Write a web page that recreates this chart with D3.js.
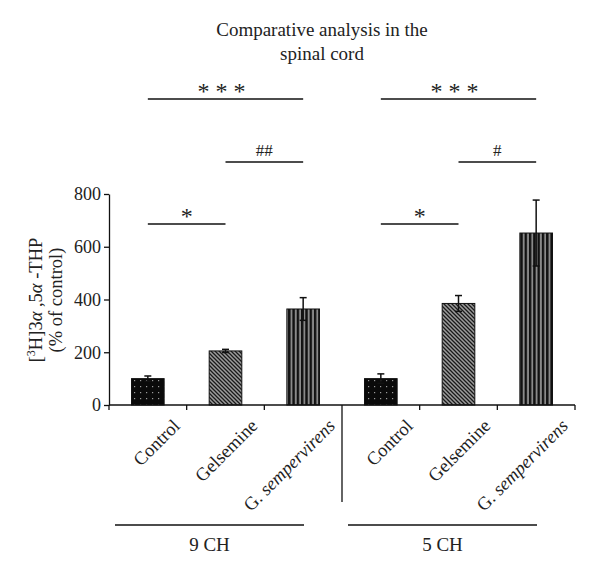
<!DOCTYPE html>
<html><head><meta charset="utf-8">
<script src="https://cdn.jsdelivr.net/npm/d3@7"></script>
<style>body{margin:0;background:#fff}svg{display:block}text{font-family:"Liberation Serif",serif;fill:#222}</style>
</head><body><div id="c"></div>
<script>
const groups = ["9 CH", "5 CH"];
const treatments = ["Control", "Gelsemine", "G. sempervirens"];
const values9 = [100, 205, 364];
const errors9 = [10, 6, 43];
const values5 = [100, 385, 652];
const errors5 = [18, 30, 125];
const yTicks = [0, 200, 400, 600, 800];
// significance brackets: [group, fromIndex, toIndex, label, level]
const brackets = [
  ["9 CH", 0, 2, "* * *", 3],
  ["9 CH", 1, 2, "##", 2],
  ["9 CH", 0, 1, "*", 1],
  ["5 CH", 0, 2, "* * *", 3],
  ["5 CH", 1, 2, "#", 2],
  ["5 CH", 0, 1, "*", 1]
];

const W = 600, H = 572;
const svg = d3.select("#c").append("svg").attr("width", W).attr("height", H);
const defs = svg.append("defs");

// patterns
const pDots = defs.append("pattern").attr("id","pDots").attr("patternUnits","userSpaceOnUse").attr("width",6).attr("height",6);
pDots.append("rect").attr("width",6).attr("height",6).attr("fill","#0a0a0a");
pDots.append("rect").attr("x",2).attr("y",2).attr("width",1.2).attr("height",1.2).attr("fill","#9a9a9a");
const pDiag = defs.append("pattern").attr("id","pDiag").attr("patternUnits","userSpaceOnUse").attr("width",4).attr("height",4);
pDiag.append("rect").attr("width",4).attr("height",4).attr("fill","#9c9c9c");
pDiag.append("path").attr("d","M-1,-1 L5,5 M-1,3 L1,5 M3,-1 L5,1").attr("stroke","#1a1a1a").attr("stroke-width",1.3);
const pVert = defs.append("pattern").attr("id","pVert").attr("patternUnits","userSpaceOnUse").attr("width",4.3).attr("height",4);
pVert.append("rect").attr("width",4.3).attr("height",4).attr("fill","#8a8a8a");
pVert.append("rect").attr("width",2.4).attr("height",4).attr("fill","#111");
const fills = ["url(#pDots)", "url(#pDiag)", "url(#pVert)"];

const cats = [];
groups.forEach((g, gi) => treatments.forEach((t, ti) => {
  const v = gi === 0 ? values9[ti] : values5[ti];
  const e = gi === 0 ? errors9[ti] : errors5[ti];
  cats.push({key: g + "|" + t, group: g, t, ti, v, e});
}));

const x = d3.scaleBand().domain(cats.map(d => d.key)).range([109, 575]).paddingInner(0.58).paddingOuter(0.29);
const xs = d3.scaleBand().domain(cats.map(d => d.key)).range([109, 575]).padding(0);
const y = d3.scaleLinear().domain([0, 800]).range([405, 194]);

// bars
svg.selectAll("rect.bar").data(cats).enter().append("rect")
  .attr("x", d => x(d.key)).attr("y", d => y(d.v))
  .attr("width", x.bandwidth()).attr("height", d => y(0) - y(d.v))
  .attr("fill", d => fills[d.ti]).attr("stroke", "#111").attr("stroke-width", 1);

// error bars
const cx = d => x(d.key) + x.bandwidth() / 2;
const eb = svg.append("g").attr("stroke", "#111").attr("stroke-width", 1.5);
cats.forEach(d => {
  eb.append("line").attr("x1", cx(d)).attr("x2", cx(d)).attr("y1", y(d.v - d.e)).attr("y2", y(d.v + d.e));
  eb.append("line").attr("x1", cx(d) - 3.5).attr("x2", cx(d) + 3.5).attr("y1", y(d.v + d.e)).attr("y2", y(d.v + d.e));
  eb.append("line").attr("x1", cx(d) - 3.5).attr("x2", cx(d) + 3.5).attr("y1", y(d.v - d.e)).attr("y2", y(d.v - d.e));
});

// y axis
const yAxis = svg.append("g").attr("transform", "translate(109,0)")
  .call(d3.axisLeft(y).tickValues(yTicks).tickSize(5).tickSizeOuter(0));
yAxis.select(".domain").attr("stroke", "#111").attr("stroke-width", 1.3);
yAxis.selectAll(".tick line").attr("stroke", "#111").attr("stroke-width", 1.3);
yAxis.selectAll(".tick text").attr("font-size", 18).attr("font-family", "Liberation Serif").attr("fill", "#222").attr("x", -8);

// x axis line with ticks at band boundaries
const xg = svg.append("g").attr("stroke", "#111").attr("stroke-width", 1.3);
xg.append("line").attr("x1", 109).attr("x2", 575).attr("y1", y(0)).attr("y2", y(0));
const bounds = cats.map(d => xs(d.key)).concat([xs(cats[5].key) + xs.step()]);
bounds.forEach((b, i) => {
  xg.append("line").attr("x1", b).attr("x2", b).attr("y1", y(0)).attr("y2", i === 3 ? 502 : y(0) + 5);
});

// x labels
cats.forEach(d => {
  const t = svg.append("text")
    .attr("transform", `translate(${xs(d.key) + xs.step() / 2 + 33},${427}) rotate(-45)`)
    .attr("text-anchor", "end").attr("font-size", 18.5);
  if (d.t === "G. sempervirens") {
    t.append("tspan").text("G. ");
    t.append("tspan").attr("font-style", "italic").text("sempervirens");
  } else t.text(d.t);
});

// group lines and labels
groups.forEach((g, gi) => {
  const x0 = gi === 0 ? 115 : 348, x1 = gi === 0 ? 304 : 537;
  svg.append("line").attr("x1", x0).attr("x2", x1).attr("y1", 525).attr("y2", 525).attr("stroke", "#111").attr("stroke-width", 1.5);
  svg.append("text").attr("x", (x0 + x1) / 2).attr("y", 551).attr("text-anchor", "middle").attr("font-size", 19).text(g);
});

// brackets
const levelY = {1: 224, 2: 162, 3: 99};
brackets.forEach(b => {
  const gc = cats.filter(d => d.group === b[0]);
  const a = cx(gc[b[1]]), c = cx(gc[b[2]]);
  const yy = levelY[b[4]];
  svg.append("line").attr("x1", a).attr("x2", c).attr("y1", yy).attr("y2", yy).attr("stroke", "#111").attr("stroke-width", 1.5);
  const isStar = b[3].indexOf("*") >= 0;
  svg.append("text").attr("x", (a + c) / 2 - (b[4] === 3 ? 4 : 0)).attr("y", yy - (isStar ? 0 : 6))
    .attr("text-anchor", "middle").attr("font-size", isStar ? 24 : 17)
    .text(b[3]);
});

// title
svg.append("text").attr("x", 322).attr("y", 36).attr("text-anchor", "middle").attr("font-size", 19).text("Comparative analysis in the");
svg.append("text").attr("x", 322).attr("y", 60).attr("text-anchor", "middle").attr("font-size", 19).text("spinal cord");

// y label
const yl = svg.append("text").attr("transform", "translate(42,300) rotate(-90)").attr("text-anchor", "middle").attr("font-size", 18.5);
yl.append("tspan").text("[");
yl.append("tspan").attr("font-size", 12).attr("dy", -7).text("3");
yl.append("tspan").attr("dy", 7).text("H]3");
yl.append("tspan").attr("font-style", "italic").text("α");
yl.append("tspan").text(" ,5");
yl.append("tspan").attr("font-style", "italic").text("α");
yl.append("tspan").text(" -THP");
svg.append("text").attr("transform", "translate(62,300) rotate(-90)").attr("text-anchor", "middle").attr("font-size", 18.5).text("(% of control)");
</script></body></html>
